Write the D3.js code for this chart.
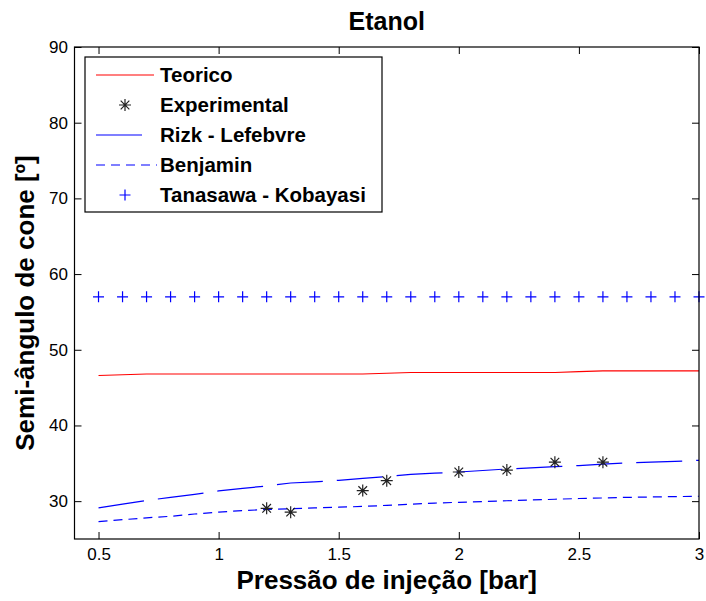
<!DOCTYPE html>
<html>
<head>
<meta charset="utf-8">
<script src="https://cdn.jsdelivr.net/npm/d3@7"></script>
<style>
  html, body { margin: 0; padding: 0; background: #fff; }
  text { font-family: "Liberation Sans", Arial, Helvetica, sans-serif; }
</style>
</head>
<body>
<svg id="chart" width="706" height="601"></svg>
<script>
// ---- data ----
const title = "Etanol";
const xLabel = "Pressão de injeção [bar]";
const yLabel = "Semi-ângulo de cone [º]";
const xTicks = [0.5, 1, 1.5, 2, 2.5, 3];
const yTicks = [30, 40, 50, 60, 70, 80, 90];
const xTickLabels = ["0.5", "1", "1.5", "2", "2.5", "3"];

const pressure = [0.5, 0.6, 0.7, 0.8, 0.9, 1.0, 1.1, 1.2, 1.3, 1.4, 1.5, 1.6, 1.7,
                  1.8, 1.9, 2.0, 2.1, 2.2, 2.3, 2.4, 2.5, 2.6, 2.7, 2.8, 2.9, 3.0];
const teorico = [46.6, 46.7, 46.8, 46.8, 46.8, 46.8, 46.8, 46.8, 46.8, 46.8, 46.8, 46.8, 46.9,
                 47.0, 47.0, 47.0, 47.0, 47.0, 47.0, 47.0, 47.1, 47.2, 47.2, 47.2, 47.2, 47.2];
const rizk = [29.1, 29.6, 30.1, 30.5, 30.9, 31.35, 31.7, 32.0, 32.4, 32.55, 32.75, 33.0, 33.25,
              33.55, 33.7, 33.85, 34.05, 34.25, 34.4, 34.55, 34.7, 34.9, 35.05, 35.15, 35.25, 35.4];
const benjamin = [27.3, 27.55, 27.8, 28.0, 28.3, 28.55, 28.75, 28.9, 29.0, 29.1, 29.2, 29.3, 29.45,
                  29.6, 29.75, 29.85, 29.95, 30.05, 30.15, 30.25, 30.35, 30.42, 30.5, 30.55, 30.6, 30.65];
const tanasawa = [57, 57, 57, 57, 57, 57, 57, 57, 57, 57, 57, 57, 57,
                  57, 57, 57, 57, 57, 57, 57, 57, 57, 57, 57, 57, 57];
const expX = [1.2, 1.3, 1.6, 1.7, 2.0, 2.2, 2.4, 2.6];
const expY = [29.05, 28.55, 31.4, 32.7, 33.85, 34.1, 35.15, 35.15];

const legendNames = ["Teorico", "Experimental", "Rizk - Lefebvre", "Benjamin", "Tanasawa - Kobayasi"];

// ---- layout ----
const svg = d3.select("#chart");
const L = 74.5, R = 699, T = 47, B = 539;
const x = d3.scaleLinear().domain([0.4, 3]).range([L, R]);
const y = d3.scaleLinear().domain([25, 90]).range([B, T]);
const tickLen = 7;
const blue = "#0000ff", red = "#ff0000";

// ticks (inward, all four sides)
const gx = svg.append("g").attr("transform", `translate(0,${B})`)
  .call(d3.axisBottom(x).tickValues(xTicks).tickSizeInner(-tickLen).tickSizeOuter(0)
    .tickPadding(9).tickFormat((d, i) => xTickLabels[i]));
const gxt = svg.append("g").attr("transform", `translate(0,${T})`)
  .call(d3.axisTop(x).tickValues(xTicks).tickSizeInner(-tickLen).tickSizeOuter(0).tickFormat(""));
const gy = svg.append("g").attr("transform", `translate(${L},0)`)
  .call(d3.axisLeft(y).tickValues(yTicks).tickSizeInner(-tickLen).tickSizeOuter(0)
    .tickPadding(6.5).tickFormat(d3.format("d")));
const gyr = svg.append("g").attr("transform", `translate(${R},0)`)
  .call(d3.axisRight(y).tickValues(yTicks).tickSizeInner(-tickLen).tickSizeOuter(0).tickFormat(""));
[gx, gxt, gy, gyr].forEach(g => {
  g.select(".domain").remove();
  g.selectAll(".tick line").attr("stroke", "#000").attr("stroke-width", 1);
  g.selectAll(".tick text").attr("fill", "#000").style("font-size", "17px")
   .style("font-family", '"Liberation Sans", Arial, sans-serif');
});

// clip
svg.append("clipPath").attr("id", "clip").append("rect")
  .attr("x", L).attr("y", T).attr("width", R - L).attr("height", B - T);
const plot = svg.append("g").attr("clip-path", "url(#clip)");

const line = (ys) => d3.line().x((d, i) => x(pressure[i])).y((d) => y(d))(ys);

plot.append("path").attr("d", line(teorico)).attr("fill", "none")
  .attr("stroke", red).attr("stroke-width", 1.2);
plot.append("path").attr("d", line(rizk)).attr("fill", "none")
  .attr("stroke", blue).attr("stroke-width", 1.2).attr("stroke-dasharray", "46,14");
plot.append("path").attr("d", line(benjamin)).attr("fill", "none")
  .attr("stroke", blue).attr("stroke-width", 1.2).attr("stroke-dasharray", "9,6");

// markers
function plus(g, cx, cy, s, color) {
  g.append("path").attr("d", `M${cx - s},${cy}H${cx + s}M${cx},${cy - s}V${cy + s}`)
    .attr("stroke", color).attr("stroke-width", 1.2).attr("fill", "none");
}
function star(g, cx, cy, s, color) {
  const d = s * 0.72;
  g.append("path").attr("d",
    `M${cx - s},${cy}H${cx + s}M${cx},${cy - s}V${cy + s}` +
    `M${cx - d},${cy - d}L${cx + d},${cy + d}M${cx - d},${cy + d}L${cx + d},${cy - d}`)
    .attr("stroke", color).attr("stroke-width", 1.2).attr("fill", "none");
}
tanasawa.forEach((v, i) => plus(svg, x(pressure[i]), y(v), 5.5, blue));
expY.forEach((v, i) => star(svg, x(expX[i]), y(v), 6, "#222"));

// axes frame
svg.append("rect").attr("x", L).attr("y", T).attr("width", R - L).attr("height", B - T)
  .attr("fill", "none").attr("stroke", "#000").attr("stroke-width", 1.2);

// title & labels
svg.append("text").attr("x", (L + R) / 2).attr("y", 30).attr("text-anchor", "middle")
  .style("font-size", "25px").style("font-weight", "bold").text(title);
svg.append("text").attr("x", (L + R) / 2).attr("y", 589).attr("text-anchor", "middle")
  .style("font-size", "26px").style("font-weight", "bold").text(xLabel);
svg.append("text").attr("transform", `translate(34,303) rotate(-90)`)
  .attr("text-anchor", "middle")
  .style("font-size", "26px").style("font-weight", "bold").text(yLabel);

// legend
const lg = svg.append("g");
lg.append("rect").attr("x", 85).attr("y", 57).attr("width", 297).attr("height", 155)
  .attr("fill", "#fff").attr("stroke", "#000").attr("stroke-width", 1.2);
const rowY = (i) => 75 + i * 30;
const lx0 = 96, lx1 = 154, lxc = 125;
lg.append("line").attr("x1", lx0).attr("x2", lx1).attr("y1", rowY(0)).attr("y2", rowY(0))
  .attr("stroke", red).attr("stroke-width", 1.2);
star(lg, lxc, rowY(1), 6, "#222");
lg.append("line").attr("x1", lx0).attr("x2", lx1).attr("y1", rowY(2)).attr("y2", rowY(2))
  .attr("stroke", blue).attr("stroke-width", 1.2).attr("stroke-dasharray", "46,14");
lg.append("line").attr("x1", lx0).attr("x2", lx1 + 3).attr("y1", rowY(3)).attr("y2", rowY(3))
  .attr("stroke", blue).attr("stroke-width", 1.2).attr("stroke-dasharray", "9,6");
plus(lg, lxc, rowY(4), 5.5, blue);
legendNames.forEach((n, i) => {
  lg.append("text").attr("x", 160).attr("y", rowY(i)).attr("dy", "0.36em")
    .style("font-size", "20.5px").style("font-weight", "bold").text(n);
});
</script>
</body>
</html>
